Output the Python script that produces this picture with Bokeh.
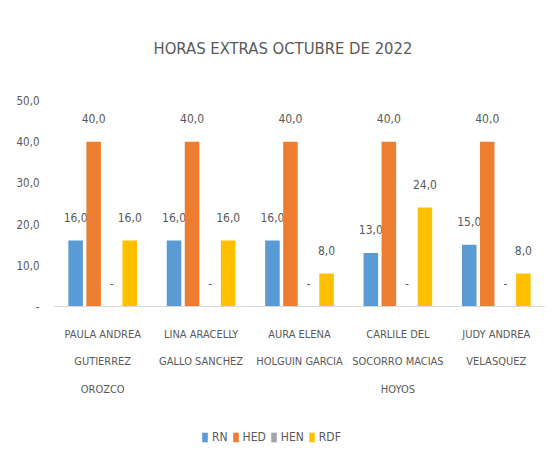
from bokeh.plotting import figure
from bokeh.models import (ColumnDataSource, FactorRange, Range1d, FixedTicker, Legend, LegendItem,
                          Span, Label)
from bokeh.transform import dodge
from bokeh.core.properties import value
from bokeh.embed import file_html
from bokeh.resources import INLINE

names = ["PAULA ANDREA\nGUTIERREZ\nOROZCO", "LINA ARACELLY\nGALLO SANCHEZ", "AURA ELENA\nHOLGUIN GARCIA",
         "CARLILE DEL\nSOCORRO MACIAS\nHOYOS", "JUDY ANDREA\nVELASQUEZ"]
series = ["RN", "HED", "HEN", "RDF"]
rn = [16, 16, 16, 13, 15]
hed = [40, 40, 40, 40, 40]
hen = [0, 0, 0, 0, 0]
rdf = [16, 16, 8, 24, 8]
colors = ["#5B9BD5", "#ED7D31", "#A5A5A5", "#FFC000"]
y_ticks = [0, 10, 20, 30, 40, 50]
y_tick_labels = ["-", "10,0", "20,0", "30,0", "40,0", "50,0"]
title_text = "HORAS EXTRAS OCTUBRE DE 2022"

FONT = "DejaVu Sans Condensed"
GREY = "#595959"

def fmt(v):
    return "-" if v == 0 else f"{v:.1f}".replace(".", ",")

data = {"names": names, "zero": [0] * len(names)}
for s, vals in zip(series, [rn, hed, hen, rdf]):
    data[s] = vals
    data[s + "_lbl"] = [fmt(v) for v in vals]
source = ColumnDataSource(data)

# layout: the frame covers the whole figure height; the value scale 0..50 spans 206 px
FRAME_H = 461
TOP_PX = 100          # pixels above the 50 line
PX_PER_UNIT = 206 / 50
y_top = y_ticks[-1] + TOP_PX / PX_PER_UNIT
y_bottom = y_top - FRAME_H / PX_PER_UNIT

p = figure(x_range=FactorRange(*names, range_padding=0), y_range=Range1d(y_bottom, y_top),
           frame_width=492, frame_height=FRAME_H, output_backend="svg", toolbar_location=None,
           min_border_left=53, min_border_right=0, min_border_top=0, min_border_bottom=0)

offsets = [-0.275, -0.092, 0.092, 0.275]
items = []
for s, c, off in zip(series, colors, offsets):
    r = p.vbar(x=dodge("names", off, range=p.x_range), top=s, width=0.148, source=source,
               fill_color=c, line_color=None)
    p.text(x=dodge("names", off, range=p.x_range), y=s, text=s + "_lbl", source=source,
           text_font_size="12px", text_font=value(FONT), text_color=GREY,
           text_align="center", text_baseline="middle", y_offset=-23)
    items.append(LegendItem(label=s, renderers=[r]))

# category axis line and labels
p.add_layout(Span(location=0, dimension="width", line_color="#D9D9D9", line_width=1))
p.text(x="names", y="zero", text="names", source=source, text_font_size="11px",
       text_font=value(FONT), text_color=GREY, text_align="center", text_baseline="top",
       text_line_height=2.12, y_offset=21)

# title
p.add_layout(Label(x=100, y=FRAME_H - 47.5, x_units="screen", y_units="screen", text=title_text,
                   text_font=FONT, text_font_size="16.5px", text_color=GREY,
                   text_align="left", text_baseline="middle"))

p.title.visible = False
p.xgrid.visible = False
p.ygrid.visible = False
p.outline_line_color = None
p.xaxis.visible = False

p.yaxis.ticker = FixedTicker(ticks=y_ticks)
p.yaxis.major_label_overrides = {t: l for t, l in zip(y_ticks, y_tick_labels)}
p.yaxis.axis_line_color = None
p.yaxis.major_tick_line_color = None
p.yaxis.major_tick_out = 0
p.yaxis.major_tick_in = 0
p.yaxis.minor_tick_line_color = None
p.yaxis.minor_tick_out = 0
p.yaxis.major_label_standoff = 14
p.yaxis.major_label_text_font = FONT
p.yaxis.major_label_text_font_size = "11.5px"
p.yaxis.major_label_text_color = GREY

legend = Legend(items=items, orientation="horizontal", location=(148, 17),
                label_text_font=FONT, label_text_font_size="12px", label_text_color=GREY,
                glyph_width=7, glyph_height=12, label_standoff=4, spacing=4,
                label_width=0, label_height=14, border_line_color=None, background_fill_alpha=0,
                padding=0, margin=0)
p.add_layout(legend, "center")

open("out.html", "w").write(file_html(p, INLINE))
